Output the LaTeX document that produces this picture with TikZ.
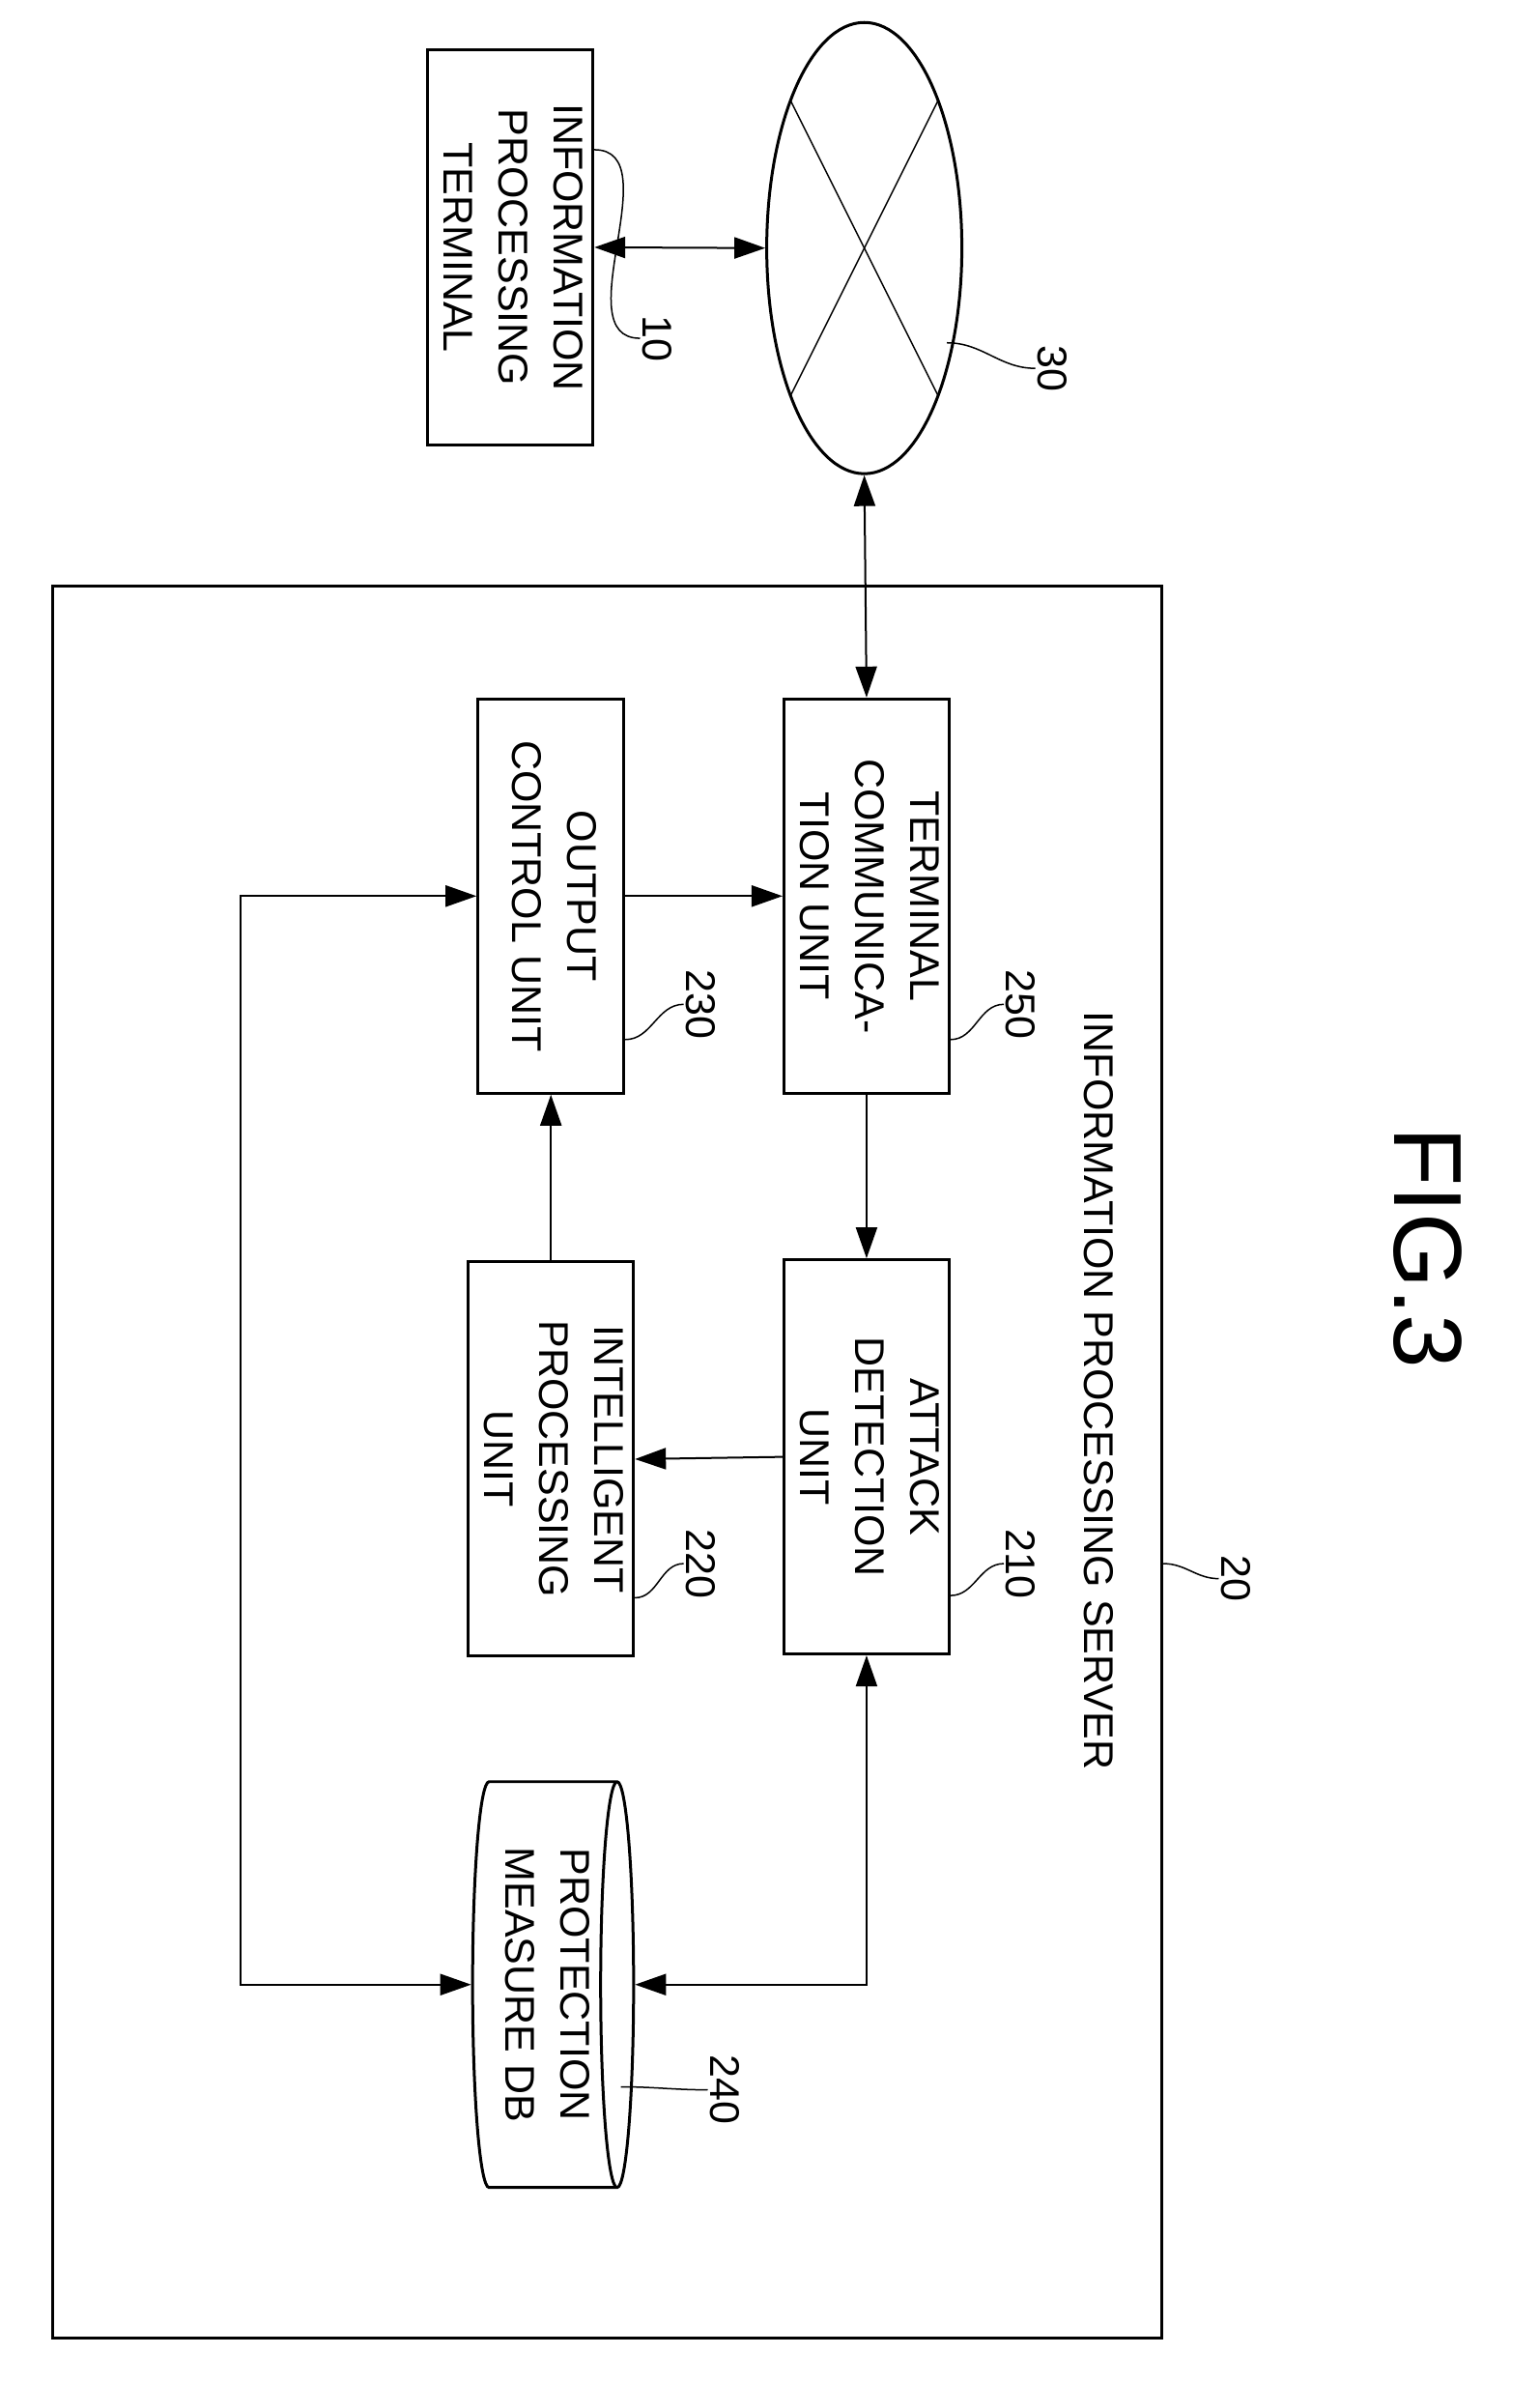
\documentclass[tikz,border=0pt]{standalone}
\usepackage{graphicx}
\usepackage{fontspec}
\setmainfont{Liberation Sans}
\usetikzlibrary{arrows.meta,shapes.geometric,positioning}
\newcommand{\vtext}[1]{\rotatebox{-90}{\begin{tabular}{@{}c@{}}#1\end{tabular}}}
\tikzset{
  unit/.style={rectangle,draw,line width=3pt,minimum width=151pt,minimum height=408pt,inner sep=0pt,font=\fontsize{43}{57}\selectfont},
  num/.style={inner sep=2pt,font=\fontsize{43}{57}\selectfont},
  link/.style={line width=2pt,>={Triangle[length=32pt,width=22pt]}},
  lead/.style={line width=1.5pt}
}
\begin{document}
\begin{tikzpicture}[x=1.556pt,y=-1.556pt]
\useasboundingbox (0,0) rectangle (1024,1585);
% outer parts
\node[unit,minimum height=409pt] (term) at (339.5,164.5) {\vtext{INFORMATION\\PROCESSING\\TERMINAL}};
\node[ellipse,draw,line width=3pt,minimum width=202pt,minimum height=467pt] (net) at (575,165) {};
\draw[lead] (526,67) -- (624,263);
\draw[lead] (624,67) -- (526,263);
\node[num] (n10) at (437,225) {\rotatebox{-90}{10}};
\draw[lead] ([yshift=-105pt]term.north east) to[out=0,in=180] (n10.west);
\node[num] (n30) at (700,245) {\rotatebox{-90}{30}};
\draw[lead] (630,228) to[out=0,in=180] (n30.west);
% server
\node[rectangle,draw,line width=3pt,minimum width=1148pt,minimum height=1813pt] (server) at (404,972.5) {};
\node[num] (title) at (731,925) {\rotatebox{-90}{INFORMATION PROCESSING SERVER}};
\node[num] (n20) at (822,1050) {\rotatebox{-90}{20}};
\draw[lead] (774,1040) to[out=0,in=180] (n20.west);
\node[font=\fontsize{100}{110}\selectfont] (fig) at (950,830) {\rotatebox{-90}{FIG.3}};
% units
\node[unit] (comm) at (576.5,596) {\vtext{TERMINAL\\COMMUNICA-\\TION UNIT}};
\node[unit] (out) at (366.5,596) {\vtext{OUTPUT\\CONTROL UNIT}};
\node[unit] (att) at (576.5,969) {\vtext{ATTACK\\DETECTION\\UNIT}};
\node[unit] (intel) at (366.5,970.5) {\vtext{INTELLIGENT\\PROCESSING\\UNIT}};
\node[cylinder,draw,line width=3pt,minimum width=420pt,minimum height=156pt,aspect=0.12,inner sep=0pt,font=\fontsize{43}{57}\selectfont] (db) at (362,1320) {\vtext{PROTECTION\\MEASURE DB}};
\node[num] (n250) at (679,668) {\rotatebox{-90}{250}};
\node[num] (n230) at (466,668) {\rotatebox{-90}{230}};
\node[num] (n210) at (679,1040) {\rotatebox{-90}{210}};
\node[num] (n220) at (466,1040) {\rotatebox{-90}{220}};
\node[num] (n240) at (482,1390) {\rotatebox{-90}{240}};
\draw[lead] ([yshift=57pt]comm.south east) to[out=0,in=180] (n250.west);
\draw[lead] ([yshift=57pt]out.south east) to[out=0,in=180] (n230.west);
\draw[lead] ([yshift=62pt]att.south east) to[out=0,in=180] (n210.west);
\draw[lead] ([yshift=62pt]intel.south east) to[out=0,in=180] (n220.west);
\draw[lead] (413,1388) to[out=0,in=180] (n240.west);
% connectors
\coordinate (bus) at (160,1000);
\draw[link,<->] (term.east) -- (net.west);
\draw[link,<->] (net.south) -- (comm.north);
\draw[link,->] (comm.south) -- (att.north);
\draw[link,->] (out.east) -- (comm.west);
\draw[link,->] (att.west) -- (intel.east);
\draw[link,->] (intel.north) -- (out.south);
\draw[link,<->] (out.west) -| (bus) |- (db.west);
\draw[link,<->] (att.south) |- (db.east);
\end{tikzpicture}
\end{document}
